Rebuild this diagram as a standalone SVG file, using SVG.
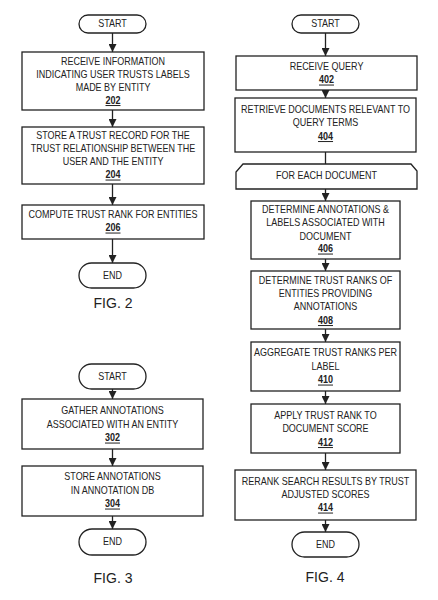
<svg xmlns="http://www.w3.org/2000/svg" width="438" height="600" viewBox="0 0 438 600">
<defs>
<style>
.b{fill:#fff;stroke:#222;stroke-width:1.3}
.t{font-family:"Liberation Sans",Arial,sans-serif;font-size:10px;fill:#222;text-anchor:middle;transform-box:fill-box;transform-origin:center;transform:scaleX(0.9)}
.n{font-weight:bold;text-decoration:underline}
.f{font-family:"Liberation Sans",Arial,sans-serif;font-size:14px;fill:#222;text-anchor:middle}
.c{stroke:#222;stroke-width:1.3;fill:none}
.a{marker-end:url(#ah)}
</style>
<marker id="ah" viewBox="0 0 8 8" refX="8" refY="4" markerWidth="8" markerHeight="8" markerUnits="userSpaceOnUse" orient="auto">
<path d="M0,0 L8,4 L0,8 Z" fill="#222"/>
</marker>
</defs>
<rect width="438" height="600" fill="#fff"/>
<g id="connectors">
<line class="c a" x1="112.5" y1="33" x2="112.5" y2="52"/>
<line class="c a" x1="112.5" y1="110" x2="112.5" y2="127"/>
<line class="c a" x1="112.5" y1="184" x2="112.5" y2="205"/>
<line class="c a" x1="112.5" y1="239" x2="112.5" y2="263"/>
<line class="c a" x1="112.5" y1="389" x2="112.5" y2="399"/>
<line class="c a" x1="112.5" y1="449" x2="112.5" y2="466"/>
<line class="c a" x1="112.5" y1="516" x2="112.5" y2="529"/>
<line class="c a" x1="325.5" y1="33" x2="325.5" y2="56"/>
<line class="c a" x1="325.5" y1="90" x2="325.5" y2="98"/>
<line class="c" x1="325.5" y1="152" x2="325.5" y2="164"/>
<line class="c a" x1="325.5" y1="189" x2="325.5" y2="201"/>
<line class="c a" x1="325.5" y1="259" x2="325.5" y2="271"/>
<line class="c a" x1="325.5" y1="329" x2="325.5" y2="342"/>
<line class="c a" x1="325.5" y1="391" x2="325.5" y2="404"/>
<line class="c a" x1="325.5" y1="453" x2="325.5" y2="470"/>
<line class="c a" x1="325.5" y1="520" x2="325.5" y2="532"/>
</g>
<!-- FIG 2 -->
<g id="f2-start"><rect class="b" x="79" y="15" width="67" height="18" rx="9"/><text class="t" x="112.5" y="27.5">START</text></g>
<g id="n202"><rect class="b" x="22" y="52" width="182" height="58"/>
<text class="t" x="113" y="65.5">RECEIVE INFORMATION</text>
<text class="t" x="113" y="78.5">INDICATING USER TRUSTS LABELS</text>
<text class="t" x="113" y="91.5">MADE BY ENTITY</text>
<text class="t n" x="113" y="104">202</text></g>
<g id="n204"><rect class="b" x="22" y="127" width="182" height="57"/>
<text class="t" x="113" y="139.5">STORE A TRUST RECORD FOR THE</text>
<text class="t" x="113" y="152.5">TRUST RELATIONSHIP BETWEEN THE</text>
<text class="t" x="113" y="165.5">USER AND THE ENTITY</text>
<text class="t n" x="113" y="178.5">204</text></g>
<g id="n206"><rect class="b" x="22" y="205" width="182" height="34"/>
<text class="t" x="113" y="218.5">COMPUTE TRUST RANK FOR ENTITIES</text>
<text class="t n" x="113" y="231.5">206</text></g>
<g id="f2-end"><rect class="b" x="79" y="263" width="67" height="25" rx="12.5"/><text class="t" x="112.5" y="279">END</text></g>
<text class="f" x="113" y="308">FIG. 2</text>
<!-- FIG 3 -->
<g id="f3-start"><rect class="b" x="79" y="364" width="67" height="25" rx="12.5"/><text class="t" x="112.5" y="380">START</text></g>
<g id="n302"><rect class="b" x="22" y="399" width="181" height="50"/>
<text class="t" x="112.5" y="414.5">GATHER ANNOTATIONS</text>
<text class="t" x="112.5" y="428">ASSOCIATED WITH AN ENTITY</text>
<text class="t n" x="112.5" y="441.5">302</text></g>
<g id="n304"><rect class="b" x="22" y="466" width="181" height="50"/>
<text class="t" x="112.5" y="480.5">STORE ANNOTATIONS</text>
<text class="t" x="112.5" y="494">IN ANNOTATION DB</text>
<text class="t n" x="112.5" y="507.5">304</text></g>
<g id="f3-end"><rect class="b" x="79" y="529" width="67" height="26" rx="13"/><text class="t" x="112.5" y="545.5">END</text></g>
<text class="f" x="113" y="583">FIG. 3</text>
<!-- FIG 4 -->
<g id="f4-start"><rect class="b" x="292" y="15" width="67" height="18" rx="9"/><text class="t" x="325.5" y="27.5">START</text></g>
<g id="n402"><rect class="b" x="236" y="56" width="181" height="34"/>
<text class="t" x="326.5" y="70.5">RECEIVE QUERY</text>
<text class="t n" x="326.5" y="83.5">402</text></g>
<g id="n404"><rect class="b" x="235" y="98" width="181" height="54"/>
<text class="t" x="325.5" y="113.5">RETRIEVE DOCUMENTS RELEVANT TO</text>
<text class="t" x="325.5" y="126.5">QUERY TERMS</text>
<text class="t n" x="325.5" y="140">404</text></g>
<g id="loop"><path class="b" d="M236,189 L236,172 L243,164 L411,164 L417,171 L417,189 Z"/>
<text class="t" x="326.5" y="179.5">FOR EACH DOCUMENT</text></g>
<g id="n406"><rect class="b" x="251" y="201" width="149" height="58"/>
<text class="t" x="325.5" y="213.5">DETERMINE ANNOTATIONS &amp;</text>
<text class="t" x="325.5" y="226.5">LABELS ASSOCIATED WITH</text>
<text class="t" x="325.5" y="240">DOCUMENT</text>
<text class="t n" x="325.5" y="252.5">406</text></g>
<g id="n408"><rect class="b" x="251" y="271" width="149" height="58"/>
<text class="t" x="325.5" y="284.5">DETERMINE TRUST RANKS OF</text>
<text class="t" x="325.5" y="297.5">ENTITIES PROVIDING</text>
<text class="t" x="325.5" y="310.5">ANNOTATIONS</text>
<text class="t n" x="325.5" y="324">408</text></g>
<g id="n410"><rect class="b" x="251" y="342" width="149" height="49"/>
<text class="t" x="325.5" y="356.5">AGGREGATE TRUST RANKS PER</text>
<text class="t" x="325.5" y="370">LABEL</text>
<text class="t n" x="325.5" y="383.5">410</text></g>
<g id="n412"><rect class="b" x="251" y="404" width="149" height="49"/>
<text class="t" x="325.5" y="419.5">APPLY TRUST RANK TO</text>
<text class="t" x="325.5" y="432.5">DOCUMENT SCORE</text>
<text class="t n" x="325.5" y="446">412</text></g>
<g id="n414"><rect class="b" x="235" y="470" width="181" height="50"/>
<text class="t" x="325.5" y="485.5">RERANK SEARCH RESULTS BY TRUST</text>
<text class="t" x="325.5" y="498">ADJUSTED SCORES</text>
<text class="t n" x="325.5" y="511.5">414</text></g>
<g id="f4-end"><rect class="b" x="292" y="532" width="67" height="25" rx="12.5"/><text class="t" x="325.5" y="548">END</text></g>
<text class="f" x="325" y="582">FIG. 4</text>
</svg>
